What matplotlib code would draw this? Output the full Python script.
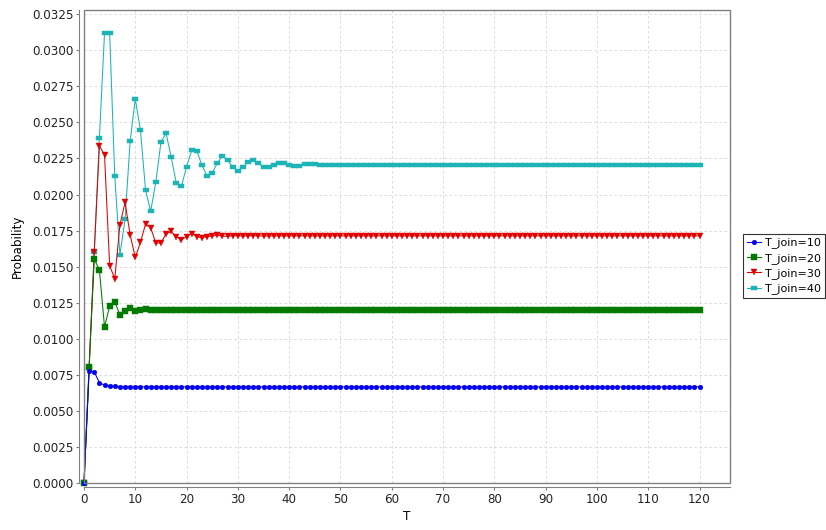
import numpy as np
import matplotlib
matplotlib.use("Agg")
import matplotlib.pyplot as plt
from matplotlib.patches import Rectangle

# time steps
T = list(range(0, 121))

# probability per step (T = 0..120, 10 values per row)
p_join10 = [
    0.0, 0.00777, 0.00772, 0.00696, 0.00680, 0.00673, 0.00671, 0.00668, 0.00668, 0.00668,
    0.00668, 0.00668, 0.00668, 0.00668, 0.00668, 0.00668, 0.00668, 0.00668, 0.00668, 0.00668,
    0.00668, 0.00668, 0.00668, 0.00668, 0.00668, 0.00668, 0.00668, 0.00668, 0.00668, 0.00668,
    0.00668, 0.00668, 0.00668, 0.00668, 0.00668, 0.00668, 0.00668, 0.00668, 0.00668, 0.00668,
    0.00668, 0.00668, 0.00668, 0.00668, 0.00668, 0.00668, 0.00668, 0.00668, 0.00668, 0.00668,
    0.00668, 0.00668, 0.00668, 0.00668, 0.00668, 0.00668, 0.00668, 0.00668, 0.00668, 0.00668,
    0.00668, 0.00668, 0.00668, 0.00668, 0.00668, 0.00668, 0.00668, 0.00668, 0.00668, 0.00668,
    0.00668, 0.00668, 0.00668, 0.00668, 0.00668, 0.00668, 0.00668, 0.00668, 0.00668, 0.00668,
    0.00668, 0.00668, 0.00668, 0.00668, 0.00668, 0.00668, 0.00668, 0.00668, 0.00668, 0.00668,
    0.00668, 0.00668, 0.00668, 0.00668, 0.00668, 0.00668, 0.00668, 0.00668, 0.00668, 0.00668,
    0.00668, 0.00668, 0.00668, 0.00668, 0.00668, 0.00668, 0.00668, 0.00668, 0.00668, 0.00668,
    0.00668, 0.00668, 0.00668, 0.00668, 0.00668, 0.00668, 0.00668, 0.00668, 0.00668, 0.00668,
    0.00668,
]

p_join20 = [
    0.0, 0.00807, 0.01553, 0.01478, 0.01082, 0.01227, 0.01255, 0.01167, 0.01195, 0.01215,
    0.01192, 0.01201, 0.01208, 0.01200, 0.01200, 0.01200, 0.01200, 0.01200, 0.01200, 0.01200,
    0.01200, 0.01200, 0.01200, 0.01200, 0.01200, 0.01200, 0.01200, 0.01200, 0.01200, 0.01200,
    0.01200, 0.01200, 0.01200, 0.01200, 0.01200, 0.01200, 0.01200, 0.01200, 0.01200, 0.01200,
    0.01200, 0.01200, 0.01200, 0.01200, 0.01200, 0.01200, 0.01200, 0.01200, 0.01200, 0.01200,
    0.01200, 0.01200, 0.01200, 0.01200, 0.01200, 0.01200, 0.01200, 0.01200, 0.01200, 0.01200,
    0.01200, 0.01200, 0.01200, 0.01200, 0.01200, 0.01200, 0.01200, 0.01200, 0.01200, 0.01200,
    0.01200, 0.01200, 0.01200, 0.01200, 0.01200, 0.01200, 0.01200, 0.01200, 0.01200, 0.01200,
    0.01200, 0.01200, 0.01200, 0.01200, 0.01200, 0.01200, 0.01200, 0.01200, 0.01200, 0.01200,
    0.01200, 0.01200, 0.01200, 0.01200, 0.01200, 0.01200, 0.01200, 0.01200, 0.01200, 0.01200,
    0.01200, 0.01200, 0.01200, 0.01200, 0.01200, 0.01200, 0.01200, 0.01200, 0.01200, 0.01200,
    0.01200, 0.01200, 0.01200, 0.01200, 0.01200, 0.01200, 0.01200, 0.01200, 0.01200, 0.01200,
    0.01200,
]

p_join30 = [
    0.0, 0.00800, 0.01605, 0.02336, 0.02277, 0.01506, 0.01418, 0.01790, 0.01945, 0.01721,
    0.01564, 0.01668, 0.01795, 0.01769, 0.01665, 0.01665, 0.01728, 0.01744, 0.01708, 0.01686,
    0.01709, 0.01730, 0.01709, 0.01700, 0.01709, 0.01712, 0.01718, 0.01712, 0.01710, 0.01716,
    0.01716, 0.01712, 0.01714, 0.01716, 0.01714, 0.01712, 0.01714, 0.01714, 0.01714, 0.01714,
    0.01714, 0.01714, 0.01714, 0.01714, 0.01714, 0.01714, 0.01714, 0.01714, 0.01714, 0.01714,
    0.01714, 0.01714, 0.01714, 0.01714, 0.01714, 0.01714, 0.01714, 0.01714, 0.01714, 0.01714,
    0.01714, 0.01714, 0.01714, 0.01714, 0.01714, 0.01714, 0.01714, 0.01714, 0.01714, 0.01714,
    0.01714, 0.01714, 0.01714, 0.01714, 0.01714, 0.01714, 0.01714, 0.01714, 0.01714, 0.01714,
    0.01714, 0.01714, 0.01714, 0.01714, 0.01714, 0.01714, 0.01714, 0.01714, 0.01714, 0.01714,
    0.01714, 0.01714, 0.01714, 0.01714, 0.01714, 0.01714, 0.01714, 0.01714, 0.01714, 0.01714,
    0.01714, 0.01714, 0.01714, 0.01714, 0.01714, 0.01714, 0.01714, 0.01714, 0.01714, 0.01714,
    0.01714, 0.01714, 0.01714, 0.01714, 0.01714, 0.01714, 0.01714, 0.01714, 0.01714, 0.01714,
    0.01714,
]

p_join40 = [
    0.0, 0.00800, 0.01600, 0.02391, 0.03118, 0.03118, 0.02127, 0.01582, 0.01829, 0.02372,
    0.02661, 0.02448, 0.02030, 0.01885, 0.02086, 0.02363, 0.02423, 0.02259, 0.02077, 0.02058,
    0.02192, 0.02307, 0.02300, 0.02203, 0.02127, 0.02150, 0.02219, 0.02266, 0.02238, 0.02190,
    0.02164, 0.02190, 0.02226, 0.02238, 0.02219, 0.02190, 0.02190, 0.02206, 0.02219, 0.02217,
    0.02206, 0.02197, 0.02199, 0.02208, 0.02212, 0.02210, 0.02206, 0.02206, 0.02206, 0.02206,
    0.02206, 0.02206, 0.02206, 0.02206, 0.02206, 0.02206, 0.02206, 0.02206, 0.02206, 0.02206,
    0.02206, 0.02206, 0.02206, 0.02206, 0.02206, 0.02206, 0.02206, 0.02206, 0.02206, 0.02206,
    0.02206, 0.02206, 0.02206, 0.02206, 0.02206, 0.02206, 0.02206, 0.02206, 0.02206, 0.02206,
    0.02206, 0.02206, 0.02206, 0.02206, 0.02206, 0.02206, 0.02206, 0.02206, 0.02206, 0.02206,
    0.02206, 0.02206, 0.02206, 0.02206, 0.02206, 0.02206, 0.02206, 0.02206, 0.02206, 0.02206,
    0.02206, 0.02206, 0.02206, 0.02206, 0.02206, 0.02206, 0.02206, 0.02206, 0.02206, 0.02206,
    0.02206, 0.02206, 0.02206, 0.02206, 0.02206, 0.02206, 0.02206, 0.02206, 0.02206, 0.02206,
    0.02206,
]

labels = ["T_join=10", "T_join=20", "T_join=30", "T_join=40"]
x_ticks = list(range(0, 121, 10))
y_ticks = [i * 0.0025 for i in range(14)]

# horizontal rectangle marker (jfreechart's 4th shape)
hrect = [(-1, -0.45), (1, -0.45), (1, 0.45), (-1, 0.45), (-1, -0.45)]

styles = [
    dict(color="#0000ee", marker="o", ms=3.4),
    dict(color="#007a00", marker="s", ms=3.8),
    dict(color="#e00000", marker="v", ms=4.4),
    dict(color="#1cb4b4", marker=hrect, ms=5.0),
]

fig = plt.figure(figsize=(8.26, 5.30), dpi=100)
ax = fig.add_axes([84 / 826, 1 - 483.3 / 530, (730.3 - 84) / 826, (483.3 - 10) / 530])

series = [p_join10, p_join20, p_join30, p_join40]
for i, (vals, lab, st) in enumerate(zip(series, labels, styles)):
    ax.plot(T, vals, color=st["color"], lw=0.75, marker=st["marker"],
            ms=st["ms"], mec=st["color"], mfc=st["color"], mew=0.3,
            label=lab, zorder=10 - i, clip_on=False)

ax.set_xlim(0, 126)
ax.set_ylim(0, 0.03278)
ax.set_xticks(x_ticks)
ax.set_yticks(y_ticks)
ax.set_yticklabels(["%.4f" % v for v in y_ticks])

ax.grid(True, color="#d4d4d4", linestyle=(0, (3, 3)), lw=0.6)
ax.set_axisbelow(True)

# plot frame
for s in ax.spines.values():
    s.set_visible(False)
ax.add_patch(Rectangle((0, 0), 1, 1, transform=ax.transAxes, fill=False,
                       edgecolor="#808080", lw=1.0, clip_on=False, zorder=20))

# offset axis lines
ax.spines["left"].set_visible(True)
ax.spines["bottom"].set_visible(True)
ax.spines["left"].set_position(("outward", 3.6))
ax.spines["bottom"].set_position(("outward", 3.0))
ax.spines["left"].set_color("#808080")
ax.spines["bottom"].set_color("#808080")

ax.tick_params(axis="both", direction="out", length=2, width=0.8, color="#808080",
               labelsize=8.6, labelcolor="#222222", pad=2)

ax.set_xlabel("T", fontsize=8.6, labelpad=3)
ax.set_ylabel("Probability", fontsize=8.6, labelpad=6)

handles, labs = ax.get_legend_handles_labels()
leg = fig.legend(handles, labs, loc="center left", bbox_to_anchor=(743 / 826, 1 - 266 / 530),
                 fontsize=8.0, frameon=True, fancybox=False, handlelength=1.3,
                 handletextpad=0.3, labelspacing=0.4, borderpad=0.35, borderaxespad=0)
leg.get_frame().set_edgecolor("black")
leg.get_frame().set_linewidth(0.8)

fig.savefig("out.png", dpi=100)
